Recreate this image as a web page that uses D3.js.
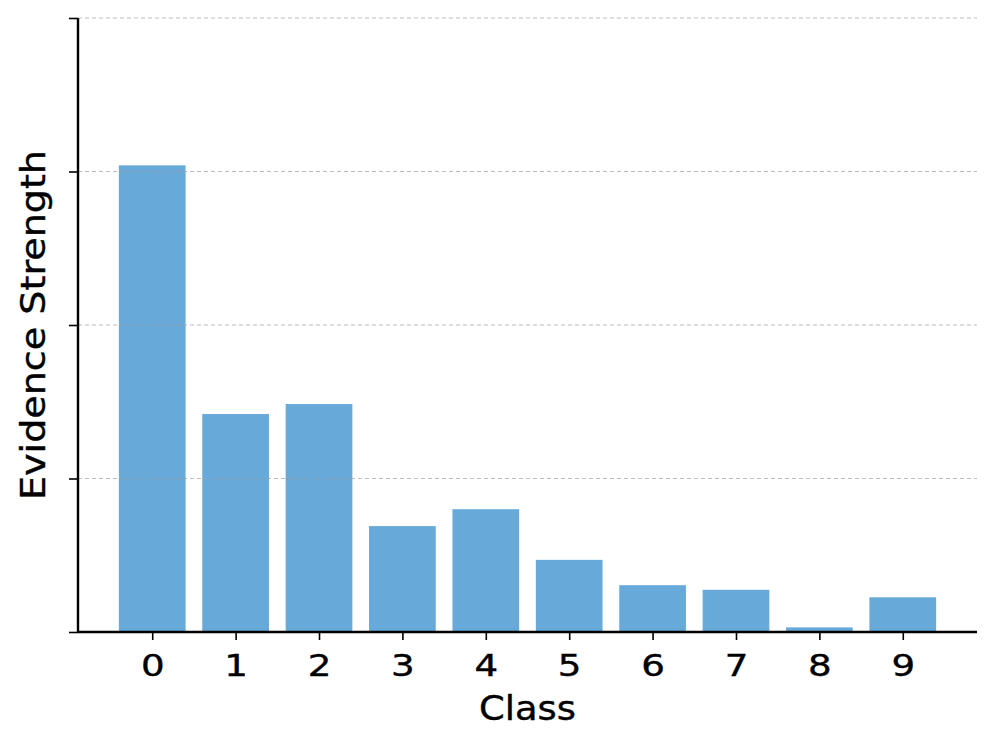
<!DOCTYPE html>
<html>
<head>
<meta charset="utf-8">
<script src="https://cdn.jsdelivr.net/npm/d3@7"></script>
<style>
  body { margin: 0; background: #fff; }
  text { font-family: "DejaVu Sans", sans-serif; fill: #000; }
</style>
</head>
<body>
<script>
// data
var classes = [0, 1, 2, 3, 4, 5, 6, 7, 8, 9];
var strength = [3.04, 1.42, 1.485, 0.69, 0.80, 0.47, 0.305, 0.275, 0.03, 0.226];
var yTicks = [0, 1, 2, 3, 4];

var w = 997, h = 747;
var pLeft = 78, pRight = 977, pTop = 18, pBottom = 632;

var svg = d3.select("body").append("svg")
  .attr("width", w)
  .attr("height", h);

var x = d3.scaleLinear().domain([-0.89, 9.89]).range([pLeft, pRight]);
var y = d3.scaleLinear().domain([0, 4]).range([pBottom, pTop]);
var barW = x(0.8) - x(0);

// bars
svg.selectAll("rect.bar")
  .data(classes)
  .enter()
  .append("rect")
  .attr("class", "bar")
  .attr("x", function(d){ return x(d - 0.4); })
  .attr("y", function(d, i){ return y(strength[i]); })
  .attr("width", barW)
  .attr("height", function(d, i){ return y(0) - y(strength[i]); })
  .attr("fill", "#67a9d9");

// grid (drawn over the bars, faint)
svg.selectAll("line.grid")
  .data(yTicks.slice(1))
  .enter()
  .append("line")
  .attr("x1", pLeft).attr("x2", pRight)
  .attr("y1", function(d){ return y(d); })
  .attr("y2", function(d){ return y(d); })
  .attr("stroke", "#a0a0a0")
  .attr("stroke-opacity", 0.7)
  .attr("stroke-width", 1)
  .attr("stroke-dasharray", "4,3");

// y axis, ticks only
var yAxis = svg.append("g")
  .attr("transform", "translate(" + pLeft + ",0)")
  .call(d3.axisLeft(y).tickValues(yTicks).tickFormat("").tickSizeInner(9).tickSizeOuter(0));

// x axis
var xAxis = svg.append("g")
  .attr("transform", "translate(0," + pBottom + ")")
  .call(d3.axisBottom(x).tickValues(classes).tickFormat(d3.format("d")).tickSizeInner(8).tickSizeOuter(0));

// the picture's lettering is a bit wider than DejaVu, so stretch it
xAxis.selectAll("text")
  .attr("font-size", 31)
  .attr("dy", null)
  .attr("y", 44)
  .attr("transform", "scale(1.2,1)")
  .attr("stroke", "#000")
  .attr("stroke-width", 0.4)
  .attr("font-family", "DejaVu Sans");

[xAxis, yAxis].forEach(function(g){
  g.select(".domain").attr("stroke", "#000").attr("stroke-width", 2.4);
  g.selectAll(".tick line").attr("stroke", "#000").attr("stroke-width", 1.6);
});
// spines: left goes to the top, bottom to the right edge
yAxis.select(".domain").attr("d", "M0," + pTop + "V" + pBottom);
xAxis.select(".domain").attr("d", "M" + pLeft + ",0H" + pRight);

// labels
svg.append("text")
  .attr("x", (pLeft + pRight) / 2)
  .attr("y", 720)
  .attr("text-anchor", "middle")
  .attr("font-size", 33)
  .attr("stroke", "#000")
  .attr("stroke-width", 0.4)
  .attr("textLength", 97)
  .attr("lengthAdjust", "spacingAndGlyphs")
  .text("Class");

svg.append("text")
  .attr("transform", "translate(45," + ((pTop + pBottom) / 2) + ") rotate(-90)")
  .attr("text-anchor", "middle")
  .attr("font-size", 34)
  .attr("stroke", "#000")
  .attr("stroke-width", 0.4)
  .attr("textLength", 350)
  .attr("lengthAdjust", "spacingAndGlyphs")
  .text("Evidence Strength");
</script>
</body>
</html>
